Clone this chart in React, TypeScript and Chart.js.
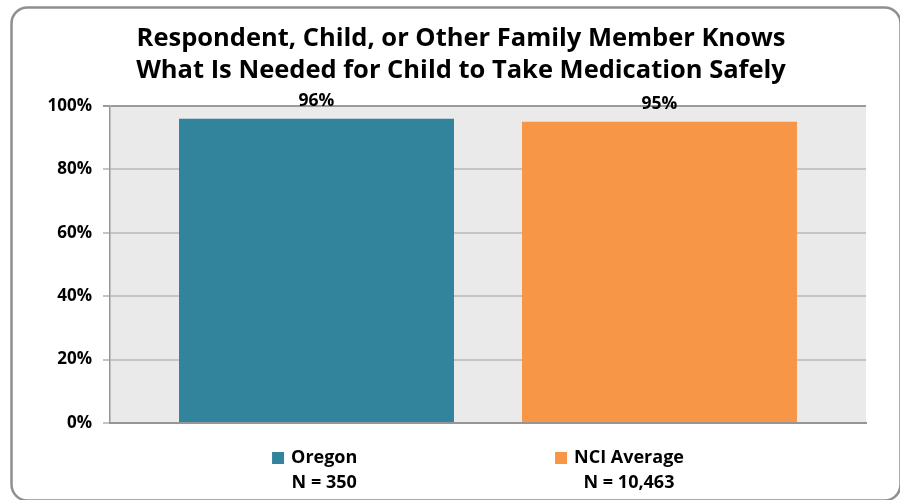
import React, { useEffect, useRef } from 'react';
import Chart from 'chart.js/auto';

const TITLE_LINES = [
  'Respondent, Child, or Other Family Member Knows',
  'What Is Needed for Child to Take Medication Safely',
];
const CATEGORIES = [''];
const SERIES_NAMES = ['Oregon', 'NCI Average'];
const SERIES_N = ['N = 350', 'N = 10,463'];
const SERIES_VALUES = [96, 95];
const SERIES_COLORS = ['#31849B', '#F79646'];
const Y_MIN = 0;
const Y_MAX = 100;
const Y_STEP = 20;

const FONT = '"Open Sans", Lato, sans-serif';

const backgroundPlugin = {
  id: 'bgPlugin',
  beforeDraw(chart: any) {
    const { ctx, chartArea, width, height } = chart;
    ctx.save();
    ctx.fillStyle = '#ffffff';
    ctx.fillRect(0, 0, width, height);
    ctx.strokeStyle = '#8f8f8f';
    ctx.lineWidth = 2.5;
    ctx.beginPath();
    ctx.roundRect(11.5, 7.5, 889, 493, 16);
    ctx.stroke();
    ctx.fillStyle = '#EAEAEA';
    ctx.fillRect(chartArea.left, chartArea.top, chartArea.right - chartArea.left, chartArea.bottom - chartArea.top);
    ctx.restore();
  },
};

const valueLabelPlugin = {
  id: 'valueLabels',
  afterDatasetsDraw(chart: any) {
    const { ctx } = chart;
    ctx.save();
    ctx.font = `bold 17.5px ${FONT}`;
    ctx.fillStyle = '#000';
    ctx.textAlign = 'center';
    ctx.textBaseline = 'alphabetic';
    chart.data.datasets.forEach((ds: any, i: number) => {
      const meta = chart.getDatasetMeta(i);
      meta.data.forEach((el: any, j: number) => {
        ctx.fillText(`${ds.data[j]}%`, el.x, el.y - 13);
      });
    });
    ctx.restore();
  },
};

const bottomLegendPlugin = {
  id: 'bottomLegend',
  afterDraw(chart: any) {
    const { ctx, chartArea } = chart;
    ctx.save();
    ctx.font = `bold 18px ${FONT}`;
    const box = 12;
    const gapBoxText = 7;
    const pitch = 283;
    const items = chart.data.datasets.map((ds: any, i: number) => {
      const lines = [SERIES_NAMES[i], SERIES_N[i]];
      const tw = Math.max(...lines.map((l) => ctx.measureText(l).width));
      return { lines, tw, color: ds.backgroundColor, w: box + gapBoxText + tw };
    });
    const total = pitch * (items.length - 1) + items[items.length - 1].w;
    const cx = (chartArea.left + chartArea.right) / 2 - 10;
    let x = cx - total / 2;
    const y1 = chartArea.bottom + 35;
    items.forEach((it: any) => {
      ctx.fillStyle = it.color;
      ctx.fillRect(x, y1 - box / 2, box, box);
      ctx.fillStyle = '#000';
      ctx.textAlign = 'center';
      ctx.textBaseline = 'middle';
      const tcx = x + box + gapBoxText + it.tw / 2;
      it.lines.forEach((l: string, k: number) => {
        ctx.fillText(l, tcx, y1 + k * 25);
      });
      x += pitch;
    });
    ctx.restore();
  },
};

export default function App() {
  const ref = useRef<HTMLCanvasElement | null>(null);

  useEffect(() => {
    if (!ref.current) return;
    const chart = new Chart(ref.current, {
      type: 'bar',
      data: {
        labels: CATEGORIES,
        datasets: SERIES_NAMES.map((name, i) => ({
          label: name,
          data: [SERIES_VALUES[i]],
          backgroundColor: SERIES_COLORS[i],
          borderWidth: 0,
          categoryPercentage: 0.9074,
          barPercentage: 0.8017,
        })),
      },
      options: {
        animation: false,
        responsive: false,
        maintainAspectRatio: false,
        layout: { padding: { left: 30, right: 8, top: 11, bottom: 77 } },
        plugins: {
          legend: { display: false },
          tooltip: { enabled: false },
          title: {
            display: true,
            text: TITLE_LINES,
            color: '#000',
            font: { family: FONT, size: 25.5, weight: 'bold', lineHeight: 32 / 25.5 },
            padding: { top: 12, bottom: 19 },
          },
        },
        scales: {
          x: {
            grid: { display: false, drawTicks: false },
            ticks: { display: false },
            border: { color: '#969696', width: 2 },
            afterFit: (s: any) => {
              s.height = 0;
            },
          },
          y: {
            min: Y_MIN,
            max: Y_MAX,
            ticks: {
              stepSize: Y_STEP,
              callback: (v: any) => `${v}%`,
              color: '#000',
              font: { family: FONT, size: 17, weight: 'bold' },
              padding: 11,
            },
            grid: {
              color: (c: any) => (c.tick && c.tick.value === Y_MAX ? '#9a9a9a' : '#c4c4c4'),
              lineWidth: 2,
              tickLength: 7,
            },
            border: { color: '#969696', width: 1.5 },
            afterFit: (s: any) => {
              s.width = 80;
            },
          },
          ySpacer: {
            type: 'linear',
            position: 'right',
            display: true,
            grid: { display: false, drawTicks: false },
            ticks: { display: false },
            border: { display: false },
            afterFit: (s: any) => {
              s.width = 26;
            },
          },
        },
      },
      plugins: [backgroundPlugin, valueLabelPlugin, bottomLegendPlugin],
    });
    return () => chart.destroy();
  }, []);

  return (
    <div style={{ position: 'fixed', left: 0, top: 0, width: 900, height: 500, background: '#fff' }}>
      <canvas ref={ref} width={900} height={500} />
    </div>
  );
}
